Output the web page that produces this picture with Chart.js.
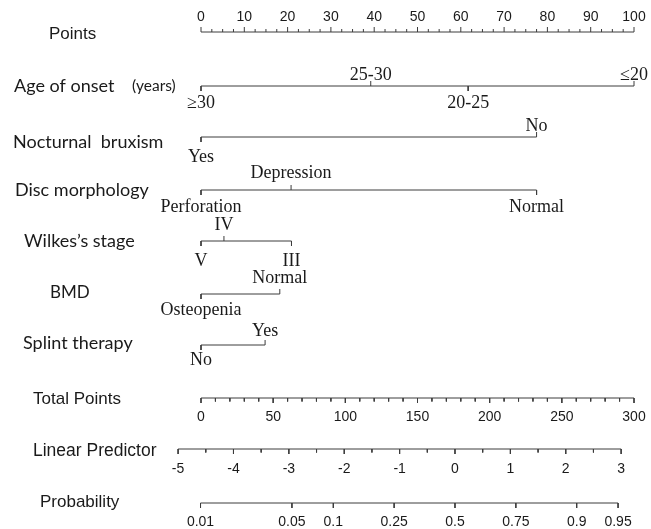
<!DOCTYPE html>
<html>
<head>
<meta charset="utf-8">
<title>Nomogram</title>
<script src="https://cdn.jsdelivr.net/npm/chart.js@4.4.1/dist/chart.umd.min.js"></script>
<style>
  html, body { margin: 0; padding: 0; background: #fff; }
  #wrap { width: 651px; height: 529px; }
</style>
</head>
<body>
<div id="wrap"><canvas id="nomo" width="651" height="529"></canvas></div>
<script>
// ---- data (points scale 0-100) ----
const pointTicks = [0, 10, 20, 30, 40, 50, 60, 70, 80, 90, 100];

const ageLevels = ['≥30', '25-30', '20-25', '≤20'];
const agePoints = [0, 39.2, 61.7, 100];

const bruxismLevels = ['Yes', 'No'];
const bruxismPoints = [0, 77.5];

const discLevels = ['Perforation', 'Depression', 'Normal'];
const discPoints = [0, 20.8, 77.5];

const wilkesLevels = ['V', 'IV', 'III'];
const wilkesPoints = [0, 5.3, 20.9];

const bmdLevels = ['Osteopenia', 'Normal'];
const bmdPoints = [0, 18.2];

const splintLevels = ['No', 'Yes'];
const splintPoints = [0, 14.8];

const totalTicks = [0, 50, 100, 150, 200, 250, 300];
const lpTicks = [-5, -4, -3, -2, -1, 0, 1, 2, 3];
const probTicks = [0.01, 0.05, 0.1, 0.25, 0.5, 0.75, 0.9, 0.95];

// total points -> points, linear predictor -> points
const TOTAL_PER_POINT = 3;
const LP_AT_ZERO = 58.66;
const LP_SLOPE = 12.79;

const toPointsTotal = tp => tp / TOTAL_PER_POINT;
const toPointsLp = lp => LP_AT_ZERO + LP_SLOPE * lp;
const toPointsProb = p => toPointsLp(Math.log(p / (1 - p)));

// ---- layout ----
const W = 651, H = 529;
const ORIGIN_X = 201, PX_PER_POINT = 4.33;
const lineColor = '#3c3c3c';
const textColor = '#1a1a1a';
const sansFont = '"Liberation Sans", Arial, sans-serif';
const humanFont = 'Lato, "Open Sans", sans-serif';
const serifFont = '"Liberation Serif", "Times New Roman", serif';

// side: 1 = label above (tick up), -1 = label below (tick down)
const factorRows = [
  { levels: ageLevels,     pts: agePoints,     side: [-1, 1, -1, 1], y: 86,  up: 75,  down: 103 },
  { levels: bruxismLevels, pts: bruxismPoints, side: [-1, 1],        y: 137, up: 126, down: 157 },
  { levels: discLevels,    pts: discPoints,    side: [-1, 1, -1],    y: 190, up: 173, down: 207 },
  { levels: wilkesLevels,  pts: wilkesPoints,  side: [-1, 1, -1],    y: 241, up: 225, down: 261 },
  { levels: bmdLevels,     pts: bmdPoints,     side: [-1, 1],        y: 294, up: 278, down: 310 },
  { levels: splintLevels,  pts: splintPoints,  side: [-1, 1],        y: 345, up: 331, down: 360 }
];

const rowTitles = [
  { text: 'Points',             x: 49, y: 34,  font: '17px ' + sansFont },
  { text: 'Age of onset',       x: 14, y: 86,  font: '18px ' + humanFont },
  { text: '(years)',            x: 132, y: 86, font: '15.5px ' + humanFont },
  { text: 'Nocturnal  bruxism', x: 13, y: 142, font: '18px ' + humanFont },
  { text: 'Disc morphology',    x: 15, y: 190, font: '18px ' + humanFont },
  { text: 'Wilkes\u2019s stage', x: 24, y: 241, font: '18px ' + humanFont },
  { text: 'BMD',                x: 50, y: 293, font: '17px ' + humanFont },
  { text: 'Splint therapy',     x: 23, y: 343, font: '18px ' + humanFont },
  { text: 'Total Points',       x: 33, y: 399, font: '17px ' + sansFont },
  { text: 'Linear Predictor',   x: 33, y: 451, font: '17.5px ' + sansFont },
  { text: 'Probability',        x: 40, y: 502, font: '17px ' + sansFont }
];

// ---- build segment datasets (null y breaks the line) ----
function segData(segs) {
  const out = [];
  segs.forEach(s => {
    out.push({ x: s[0], y: s[1] }, { x: s[2], y: s[3] }, { x: s[2], y: null });
  });
  return out;
}

const segs = [];

// Points axis: ticks point up, minor every 2.5
const pY = 32;
segs.push([0, pY, 100, pY]);
pointTicks.forEach(v => segs.push([v, pY, v, pY - 5]));
for (let v = 2.5; v < 100; v += 5) segs.push([v, pY, v, pY - 3]);
for (let v = 5; v < 100; v += 10) segs.push([v, pY, v, pY - 3]);

// factor rows
factorRows.forEach(r => {
  const lo = Math.min(...r.pts), hi = Math.max(...r.pts);
  segs.push([lo, r.y, hi, r.y]);
  r.pts.forEach((p, i) => segs.push([p, r.y, p, r.y - 5 * r.side[i]]));
});

// Total points: ticks down, minor every 10
const tY = 398;
segs.push([toPointsTotal(0), tY, toPointsTotal(300), tY]);
for (let v = 0; v <= 300; v += 10) {
  const major = totalTicks.includes(v);
  segs.push([toPointsTotal(v), tY, toPointsTotal(v), tY + (major ? 5 : 3.5)]);
}

// Linear predictor: ticks down, minor every 0.5
const lY = 449;
segs.push([toPointsLp(-5), lY, toPointsLp(3), lY]);
for (let v = -5; v <= 3; v += 0.5) {
  const major = lpTicks.includes(v);
  segs.push([toPointsLp(v), lY, toPointsLp(v), lY + (major ? 5 : 3.5)]);
}

// Probability
const prY = 503;
segs.push([toPointsProb(probTicks[0]), prY, toPointsProb(probTicks[probTicks.length - 1]), prY]);
probTicks.forEach(p => segs.push([toPointsProb(p), prY, toPointsProb(p), prY + 5]));

// ---- text plugin ----
const labelPlugin = {
  id: 'nomoLabels',
  afterDatasetsDraw(chart) {
    const ctx = chart.ctx;
    const xs = chart.scales.x, ys = chart.scales.y;
    const px = v => xs.getPixelForValue(v);
    const py = v => ys.getPixelForValue(v);
    ctx.save();
    ctx.fillStyle = textColor;
    ctx.textBaseline = 'middle';

    ctx.textAlign = 'left';
    rowTitles.forEach(t => {
      ctx.font = t.font;
      ctx.fillText(t.text, t.x, t.y);
    });

    ctx.textAlign = 'center';
    ctx.font = '14px ' + sansFont;
    pointTicks.forEach(v => ctx.fillText(String(v), px(v), py(17)));
    totalTicks.forEach(v => ctx.fillText(String(v), px(toPointsTotal(v)), py(417)));
    lpTicks.forEach(v => ctx.fillText(String(v), px(toPointsLp(v)), py(469)));
    probTicks.forEach(v => ctx.fillText(String(v), px(toPointsProb(v)), py(522)));

    ctx.font = '18px ' + serifFont;
    factorRows.forEach(r => {
      r.levels.forEach((lab, i) => {
        let x = px(r.pts[i]);
        const y = py(r.side[i] > 0 ? r.up : r.down);
        const w = ctx.measureText(lab).width;
        if (x + w / 2 > W - 1) x = W - 1 - w / 2;
        ctx.fillText(lab, x, y);
      });
    });
    ctx.restore();
  }
};

new Chart(document.getElementById('nomo'), {
  type: 'line',
  data: {
    datasets: [{
      data: segData(segs),
      borderColor: lineColor,
      borderWidth: 1,
      pointRadius: 0,
      spanGaps: false,
      tension: 0
    }]
  },
  options: {
    responsive: false,
    animation: false,
    events: [],
    layout: { padding: 0 },
    plugins: { legend: { display: false }, tooltip: { enabled: false } },
    scales: {
      x: { type: 'linear', display: false, min: -ORIGIN_X / PX_PER_POINT, max: (W - ORIGIN_X) / PX_PER_POINT },
      y: { type: 'linear', display: false, min: 0, max: H, reverse: true }
    }
  },
  plugins: [labelPlugin]
});
</script>
</body>
</html>
